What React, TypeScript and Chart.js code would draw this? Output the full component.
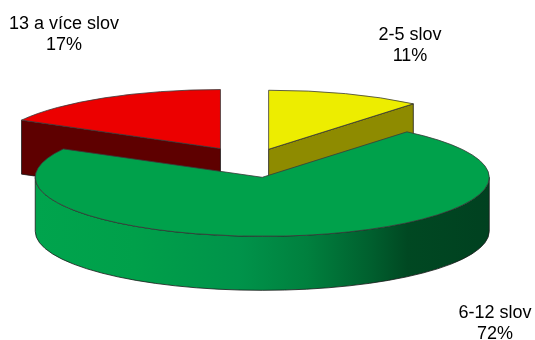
import React, { useEffect, useRef } from "react";
import { Chart, registerables } from "chart.js";

Chart.register(...registerables);

// ---- data ----
const categories = ["2-5 slov", "6-12 slov", "13 a více slov"];
const values = [11, 72, 17];
const percentLabels = ["11%", "72%", "17%"];

// ---- styles ----
const topColors = ["#EDED00", "#00A14B", "#EC0000"];
const sideStops: Array<Array<[number, string]>> = [
  [[0, "#8E8B00"], [1, "#8E8B00"]],
  [
    [0, "#00A44D"],
    [0.22, "#00A04A"],
    [0.45, "#00934A"],
    [0.6, "#00803E"],
    [0.74, "#005F2E"],
    [0.82, "#004822"],
    [1, "#004120"],
  ],
  [[0, "#5E0000"], [1, "#5E0000"]],
];
const explodeOffsets = [52, 60, 60];
const TILT = 0.26;
const DEPTH = 54;
const RADIUS = 227;
const FONT = "18px 'Liberation Sans', Arial, sans-serif";
const labelAnchors: Array<[number, number]> = [
  [410, 40],
  [495, 318],
  [64, 29],
];
const LINE_GAP = 20.5;

function wallPath(ctx: CanvasRenderingContext2D, cx: number, cy: number, r: number, ry: number, lo: number, hi: number) {
  ctx.beginPath();
  ctx.ellipse(cx, cy, r, ry, 0, lo, hi, false);
  ctx.lineTo(cx + r * Math.cos(hi), cy + ry * Math.sin(hi) + DEPTH);
  ctx.ellipse(cx, cy + DEPTH, r, ry, 0, hi, lo, true);
  ctx.closePath();
}

function radialPath(ctx: CanvasRenderingContext2D, cx: number, cy: number, r: number, ry: number, a: number) {
  const px = cx + r * Math.cos(a);
  const py = cy + ry * Math.sin(a);
  ctx.beginPath();
  ctx.moveTo(cx, cy);
  ctx.lineTo(px, py);
  ctx.lineTo(px, py + DEPTH);
  ctx.lineTo(cx, cy + DEPTH);
  ctx.closePath();
}

const pie3d = {
  id: "pie3d",
  beforeDatasetDraw(chart: any) {
    const ctx: CanvasRenderingContext2D = chart.ctx;
    const meta = chart.getDatasetMeta(0);
    const slices = meta.data.map((el: any, i: number) => {
      const p = el.getProps(["x", "y", "startAngle", "endAngle", "outerRadius"], true);
      const off = el.options.offset || 0;
      const mid = (p.startAngle + p.endAngle) / 2;
      return {
        i,
        cx: p.x + Math.cos(mid) * off,
        cy: p.y + Math.sin(mid) * off * TILT,
        a0: p.startAngle,
        a1: p.endAngle,
        r: p.outerRadius,
        mid,
        color: el.options.backgroundColor,
      };
    });
    slices.sort((a: any, b: any) => Math.sin(a.mid) - Math.sin(b.mid));
    ctx.save();
    ctx.lineJoin = "round";
    ctx.lineWidth = 0.8;
    for (const s of slices) {
      const ry = s.r * TILT;
      const grad = ctx.createLinearGradient(s.cx - s.r, 0, s.cx + s.r, 0);
      for (const [o, c] of sideStops[s.i]) grad.addColorStop(o, c);
      ctx.strokeStyle = "#1a1a1a";
      // outer curved wall (front half only)
      for (let k = -1; k <= 1; k++) {
        const lo = Math.max(s.a0, 2 * Math.PI * k);
        const hi = Math.min(s.a1, Math.PI + 2 * Math.PI * k);
        if (hi > lo) {
          wallPath(ctx, s.cx, s.cy, s.r, ry, lo, hi);
          ctx.fillStyle = grad;
          ctx.fill();
          ctx.stroke();
        }
      }
      // radial walls facing the viewer
      if (Math.cos(s.a0) < -1e-6) {
        radialPath(ctx, s.cx, s.cy, s.r, ry, s.a0);
        ctx.fillStyle = grad;
        ctx.fill();
        ctx.stroke();
      }
      if (Math.cos(s.a1) > 1e-6) {
        radialPath(ctx, s.cx, s.cy, s.r, ry, s.a1);
        ctx.fillStyle = grad;
        ctx.fill();
        ctx.stroke();
      }
      // top face
      ctx.beginPath();
      ctx.moveTo(s.cx, s.cy);
      ctx.ellipse(s.cx, s.cy, s.r, ry, 0, s.a0, s.a1, false);
      ctx.closePath();
      ctx.fillStyle = s.color;
      ctx.fill();
      ctx.strokeStyle = "#3a3a3a";
      ctx.stroke();
    }
    ctx.restore();
    return false;
  },
};

const labelPlugin = {
  id: "pieLabels",
  afterDraw(chart: any) {
    const ctx: CanvasRenderingContext2D = chart.ctx;
    const labels: string[] = chart.data.labels;
    ctx.save();
    ctx.font = FONT;
    ctx.fillStyle = "#000";
    ctx.textAlign = "center";
    ctx.textBaseline = "alphabetic";
    labels.forEach((lab, i) => {
      const [x, y] = labelAnchors[i];
      ctx.fillText(lab, x, y);
      ctx.fillText(percentLabels[i], x, y + LINE_GAP);
    });
    ctx.restore();
  },
};

export default function App() {
  const ref = useRef<HTMLCanvasElement | null>(null);
  useEffect(() => {
    if (!ref.current) return;
    const chart = new Chart(ref.current, {
      type: "pie",
      data: {
        labels: categories,
        datasets: [
          {
            data: values,
            backgroundColor: topColors,
            borderWidth: 0,
            radius: RADIUS,
            offset: explodeOffsets,
          } as any,
        ],
      },
      options: {
        responsive: false,
        animation: false,
        events: [],
        layout: { padding: { left: 0, right: 33, top: 0, bottom: 16 } },
        plugins: { legend: { display: false }, tooltip: { enabled: false } },
      } as any,
      plugins: [pie3d as any, labelPlugin as any],
    });
    return () => chart.destroy();
  }, []);
  return (
    <div style={{ position: "absolute", left: 0, top: 0, width: 535, height: 340, background: "#fff" }}>
      <canvas ref={ref} width={535} height={340} />
    </div>
  );
}
